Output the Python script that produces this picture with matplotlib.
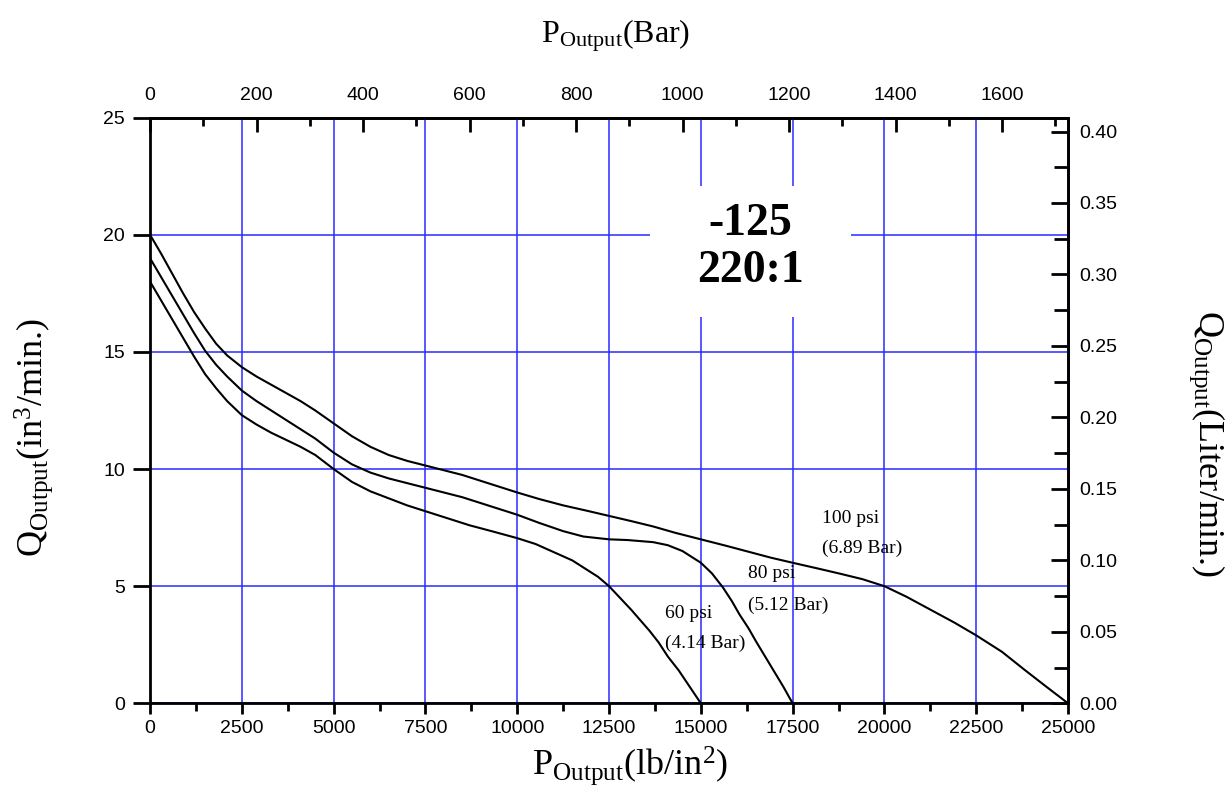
import matplotlib
matplotlib.use("Agg")
import matplotlib.pyplot as plt
from matplotlib.patches import Rectangle
from matplotlib.ticker import MultipleLocator, FormatStrFormatter
import numpy as np

plt.rcParams["mathtext.fontset"] = "custom"
plt.rcParams["mathtext.rm"] = "Liberation Serif"
plt.rcParams["mathtext.it"] = "Liberation Serif:italic"

SANS = "Liberation Sans"
SERIF = "Liberation Serif"

# output flow (in^3/min) vs output pressure (psi), one curve per air drive pressure
psi_100 = [0, 300, 600, 900, 1200, 1500, 1800, 2100, 2500, 2900, 3300, 3700, 4100, 4500,
           5000, 5500, 6000, 6500, 7000, 7500, 8000, 8500, 9000, 9500, 10000, 10600,
           11250, 11900, 12500, 13100, 13700, 14300, 15000, 15700, 16300, 16900, 17500,
           18200, 18800, 19400, 20000, 20600, 21250, 21900, 22500, 23200, 23800, 24400,
           25000]
q_100 = [20.0, 19.2, 18.35, 17.5, 16.7, 16.0, 15.35, 14.85, 14.35, 13.95, 13.6, 13.25,
         12.9, 12.5, 11.95, 11.4, 10.95, 10.6, 10.35, 10.15, 9.95, 9.75, 9.5, 9.25, 9.0,
         8.72, 8.45, 8.22, 8.0, 7.78, 7.55, 7.28, 7.0, 6.72, 6.47, 6.22, 6.0, 5.75, 5.53,
         5.3, 5.0, 4.55, 4.0, 3.45, 2.9, 2.2, 1.45, 0.72, 0.0]

psi_80 = [0, 300, 600, 900, 1200, 1500, 1800, 2100, 2500, 2900, 3300, 3700, 4100, 4500,
          5000, 5500, 6000, 6500, 7000, 7500, 8000, 8500, 9000, 9500, 10000, 10600, 11250,
          11800, 12500, 13000, 13700, 14100, 14500, 15000, 15300, 15600, 15850, 16050,
          16300, 16500, 16750, 17000, 17250, 17500]
q_80 = [19.0, 18.2, 17.4, 16.6, 15.8, 15.05, 14.45, 13.95, 13.35, 12.9, 12.5, 12.1, 11.7,
        11.3, 10.7, 10.2, 9.85, 9.6, 9.4, 9.2, 9.0, 8.8, 8.55, 8.3, 8.05, 7.7, 7.35, 7.12,
        7.0, 6.97, 6.88, 6.75, 6.5, 6.0, 5.55, 4.95, 4.35, 3.8, 3.2, 2.65, 2.0, 1.35, 0.7,
        0.0]

psi_60 = [0, 300, 600, 900, 1200, 1500, 1800, 2100, 2500, 2900, 3300, 3700, 4100, 4500,
          5000, 5500, 6000, 6500, 7000, 7500, 8000, 8700, 9300, 10000, 10500, 11000, 11500,
          11900, 12200, 12500, 12800, 13100, 13350, 13600, 13850, 14100, 14400, 14700,
          15000]
q_60 = [18.0, 17.2, 16.4, 15.6, 14.8, 14.05, 13.45, 12.9, 12.3, 11.9, 11.55, 11.25, 10.95,
        10.6, 10.0, 9.45, 9.05, 8.75, 8.45, 8.2, 7.95, 7.6, 7.35, 7.05, 6.8, 6.45, 6.1, 5.7,
        5.4, 5.0, 4.5, 4.0, 3.55, 3.1, 2.6, 2.0, 1.4, 0.7, 0.0]

curve_labels = [("100 psi", "(6.89 Bar)", 18300, 7.9, 6.6),
                ("80 psi", "(5.12 Bar)", 16280, 5.55, 4.2),
                ("60 psi", "(4.14 Bar)", 14020, 3.85, 2.57)]

PSI_PER_BAR = 14.5038
LPM_PER_IN3 = 0.016387

fig = plt.figure(figsize=(12.31, 7.93), dpi=100)
ax = fig.add_axes([0.1219, 0.1131, 0.7457, 0.7385])

ax.set_xlim(0, 25000)
ax.set_ylim(0, 25)

ax.grid(True, which="major", color="#2a2aff", linewidth=1.1, zorder=0)
ax.set_axisbelow(True)

# white panel behind the model name
ax.add_patch(Rectangle((13617, 16.5), 5473, 5.58, facecolor="white",
                       edgecolor="none", zorder=1))
ax.text(16350, 19.45, "-125\n220:1", ha="center", va="center", fontsize=33,
        fontweight="bold", family=SERIF, linespacing=1.15, zorder=3)

for xs, ys in [(psi_100, q_100), (psi_80, q_80), (psi_60, q_60)]:
    ax.plot(xs, ys, color="black", linewidth=1.5, zorder=2)

for top, bottom, x, y1, y2 in curve_labels:
    ax.text(x, y1, top, fontsize=14, family=SERIF, va="center", ha="left", zorder=3)
    ax.text(x, y2, bottom, fontsize=14, family=SERIF, va="center", ha="left", zorder=3)

for sp in ax.spines.values():
    sp.set_linewidth(2.0)

ax.xaxis.set_major_locator(MultipleLocator(2500))
ax.xaxis.set_minor_locator(MultipleLocator(1250))
ax.yaxis.set_major_locator(MultipleLocator(5))
ax.tick_params(axis="x", which="major", direction="out", length=8, width=2,
               labelsize=14, pad=4, top=False)
ax.tick_params(axis="x", which="minor", direction="out", length=6, width=2, top=False)
ax.tick_params(axis="y", which="major", direction="out", length=12, width=2,
               labelsize=14, pad=6, right=False)
for lab in ax.get_xticklabels() + ax.get_yticklabels():
    lab.set_family(SANS)

# pressure in bar along the top
top_ax = ax.secondary_xaxis("top", functions=(lambda p: np.asarray(p) / PSI_PER_BAR,
                                              lambda b: np.asarray(b) * PSI_PER_BAR))
top_ax.xaxis.set_major_locator(MultipleLocator(200))
top_ax.xaxis.set_minor_locator(MultipleLocator(100))
top_ax.tick_params(which="major", direction="in", length=10, width=2, labelsize=14, pad=10)
top_ax.tick_params(which="minor", direction="in", length=6, width=2)
top_ax.spines["top"].set_linewidth(2.0)
for lab in top_ax.get_xticklabels():
    lab.set_family(SANS)

# flow in litres per minute on the right
right_ax = ax.secondary_yaxis("right", functions=(lambda q: np.asarray(q) * LPM_PER_IN3,
                                                  lambda l: np.asarray(l) / LPM_PER_IN3))
right_ax.yaxis.set_major_locator(MultipleLocator(0.05))
right_ax.yaxis.set_minor_locator(MultipleLocator(0.025))
right_ax.yaxis.set_major_formatter(FormatStrFormatter("%.2f"))
right_ax.tick_params(which="major", direction="in", length=12, width=2, labelsize=14, pad=8)
right_ax.tick_params(which="minor", direction="in", length=10, width=2)
right_ax.spines["right"].set_linewidth(2.0)
for lab in right_ax.get_yticklabels():
    lab.set_family(SANS)

fig.text(0.512, 0.035, r"P$_{\mathrm{Output}}$(lb/in$^{2}$)", fontsize=26, family=SERIF,
         ha="center", va="center")
fig.text(0.500, 0.955, r"P$_{\mathrm{Output}}$(Bar)", fontsize=23, family=SERIF,
         ha="center", va="center")
fig.text(0.027, 0.448, r"Q$_{\mathrm{Output}}$(in$^{3}$/min.)", fontsize=26, family=SERIF,
         ha="center", va="center", rotation=90)
fig.text(0.980, 0.440, r"Q$_{\mathrm{Output}}$(Liter/min.)", fontsize=26, family=SERIF,
         ha="center", va="center", rotation=-90)

fig.savefig("out.png", dpi=100)
